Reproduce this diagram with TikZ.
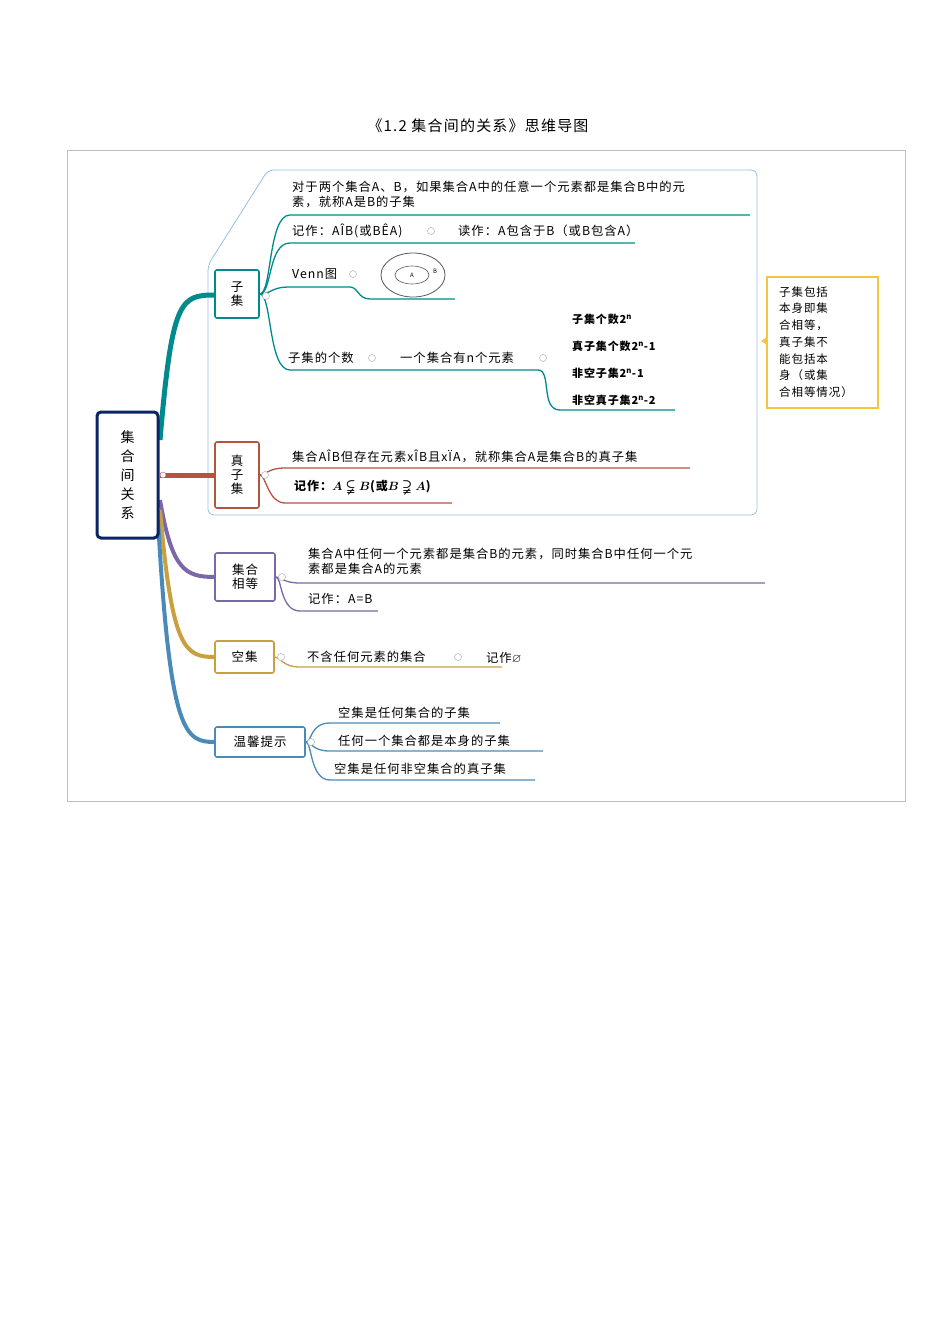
\documentclass[tikz,border=0pt]{standalone}
\usepackage{amssymb}
\usepackage{bm}
\usepackage{fontspec}
\setmainfont[LetterSpace=8]{Noto Sans CJK SC}
\begin{document}
\begin{tikzpicture}[x=1pt,y=-1pt,
 txt/.style={anchor=west,inner sep=0pt,font=\fontsize{12.3}{15}\selectfont},
 box/.style={draw,rounded corners=2pt,line width=1.6pt,fill=white,align=center,font=\fontsize{12.5}{14}\selectfont},
 br/.style={line width=1.3pt},
 col/.style={draw=gray!60,fill=white,circle,inner sep=0pt,minimum size=7pt,line width=0.5pt}]
\definecolor{teal1}{RGB}{0,138,140}
\definecolor{red1}{RGB}{178,84,62}
\definecolor{pur1}{RGB}{122,104,168}
\definecolor{gold1}{RGB}{200,160,64}
\definecolor{blue1}{RGB}{74,138,184}
\definecolor{navy1}{RGB}{10,36,100}
\definecolor{yel1}{RGB}{245,197,66}
\definecolor{lb}{RGB}{150,190,225}
\useasboundingbox (0,0) rectangle (950,1344);
\node[font=\fontsize{15}{17}\selectfont] (title) at (478,126) {《1.2 集合间的关系》思维导图};
\draw[gray!50] (67,150) rectangle (905,801);
% subset frame
\draw[lb,line width=0.8pt,rounded corners=6pt] (268,170) -- (757,170) -- (757,515) -- (208,515) -- (208,265) -- cycle;
% main branches
\draw[teal1,line width=5pt] (160,440) .. controls (172,300) and (180,295) .. (215,295);
\draw[red1,line width=5pt] (160,475) -- (215,475);
\draw[pur1,line width=4pt] (160,500) .. controls (172,570) and (185,577) .. (215,577);
\draw[gold1,line width=4pt] (160,510) .. controls (172,650) and (185,657) .. (215,657);
\draw[blue1,line width=4pt] (158,520) .. controls (170,735) and (185,742) .. (215,742);
\node[box,draw=navy1,line width=3pt,minimum width=61pt,minimum height=126pt,rounded corners=4pt,font=\fontsize{14}{19}\selectfont] (c) at (127.5,475) {集\\合\\间\\关\\系};
\node[circle,fill=white,draw=red1,inner sep=0pt,minimum size=6pt] (cd) at (163,475) {};
% nodes
\node[box,draw=teal1,minimum width=44pt,minimum height=48pt] (zj) at (237,294) {子\\集};
\node[box,draw=red1,minimum width=44pt,minimum height=66pt] (zzj) at (237,475) {真\\子\\集};
\node[box,draw=pur1,minimum width=60pt,minimum height=48pt] (xd) at (245,577) {集合\\相等};
\node[box,draw=gold1,minimum width=59pt,minimum height=32pt] (kj) at (244.5,657) {空集};
\node[box,draw=blue1,minimum width=90pt,minimum height=30pt] (wx) at (260,742) {温馨提示};
% subset children
\draw[teal1,br] (zj.east) .. controls (272,294) and (268,215) .. (290,215) -- (750,215);
\draw[teal1,br] (zj.east) .. controls (272,294) and (268,243) .. (290,243) -- (635,243);
\draw[teal1,br] (zj.east) .. controls (272,294) and (270,287) .. (290,287) -- (350,287) .. controls (358,287) and (358,299) .. (370,299) -- (455,299);
\draw[teal1,br] (zj.east) .. controls (272,294) and (268,370) .. (290,370) -- (538,370) .. controls (552,370) and (540,410) .. (560,410) -- (675,410);
\node[col] at (266,296) {};
\node[txt] (t1) at (292,196) {\begin{tabular}{@{}l@{}}对于两个集合A、B，如果集合A中的任意一个元素都是集合B中的元\\素，就称A是B的子集\end{tabular}};
\node[txt] (t2) at (292,231) {记作：AÎB(或BÊA)};
\node[col] at (431,231) {};
\node[txt] (t3) at (458,231) {读作：A包含于B（或B包含A）};
\node[txt] (t4) at (292,274) {Venn图};
\node[col] at (353,274) {};
\draw[gray!70!black,line width=0.8pt] (413,275) ellipse (32 and 22);
\draw[gray!70!black,line width=0.6pt] (412,275) ellipse (17 and 9);
\node[font=\fontsize{6}{7}\selectfont\itshape] (va) at (412,275) {A};
\node[font=\fontsize{6}{7}\selectfont\itshape] (vb) at (435,271) {B};
\node[txt] (t5) at (288,358) {子集的个数};
\node[col] at (372,358) {};
\node[txt] (t6) at (400,358) {一个集合有n个元素};
\node[col] at (543,358) {};
\node[txt,font=\fontsize{11}{13}\selectfont\bfseries] (n1) at (572,319) {子集个数2\textsuperscript{n}};
\node[txt,font=\fontsize{11}{13}\selectfont\bfseries] (n2) at (572,346) {真子集个数2\textsuperscript{n}-1};
\node[txt,font=\fontsize{11}{13}\selectfont\bfseries] (n3) at (572,373) {非空子集2\textsuperscript{n}-1};
\node[txt,font=\fontsize{11}{13}\selectfont\bfseries] (n4) at (572,400) {非空真子集2\textsuperscript{n}-2};
% yellow note
\draw[yel1,line width=2pt] (767,277) rectangle (878,408);
\fill[yel1] (767,337) -- (761,341) -- (767,345) -- cycle;
\node[txt,align=left,font=\fontsize{11.5}{16.7}\selectfont] (note) at (779,342) {子集包括\\本身即集\\合相等，\\真子集不\\能包括本\\身（或集\\合相等情况）};
% proper subset
\draw[red1,br] (zzj.east) .. controls (266,475) and (268,468) .. (285,468) -- (690,468);
\draw[red1,br] (zzj.east) .. controls (266,475) and (268,503) .. (285,503) -- (452,503);
\node[col] at (265,475) {};
\node[txt] (p1) at (292,456) {集合AÎB但存在元素xÎB且xÏA，就称集合A是集合B的真子集};
\node[txt,font=\fontsize{12}{14}\selectfont\bfseries] (p2) at (294,487) {记作：$\bm{A\subsetneqq B}$(或$\bm{B\supsetneqq A}$)};
% equal
\draw[pur1,br] (xd.east) .. controls (282,577) and (283,583) .. (300,583) -- (765,583);
\draw[pur1,br] (xd.east) .. controls (282,577) and (280,611) .. (300,611) -- (378,611);
\node[col] at (282,577) {};
\node[txt] (e1) at (308,563) {\begin{tabular}{@{}l@{}}集合A中任何一个元素都是集合B的元素，同时集合B中任何一个元\\素都是集合A的元素\end{tabular}};
\node[txt] (e2) at (308,599) {记作：A=B};
% empty
\draw[gold1,br] (kj.east) .. controls (281,657) and (282,667) .. (300,667) -- (502,667);
\node[col] at (281,657) {};
\node[txt] (k1) at (307,657) {不含任何元素的集合};
\node[col] at (458,657) {};
\node[txt] (k2) at (486,658) {记作$\varnothing$};
% tips
\draw[blue1,br] (wx.east) .. controls (312,742) and (310,723) .. (330,723) -- (500,723);
\draw[blue1,br] (wx.east) .. controls (312,742) and (312,751) .. (330,751) -- (543,751);
\draw[blue1,br] (wx.east) .. controls (312,742) and (310,780) .. (330,780) -- (535,780);
\node[col] at (311,742) {};
\node[txt] (w1) at (338,713) {空集是任何集合的子集};
\node[txt] (w2) at (338,741) {任何一个集合都是本身的子集};
\node[txt] (w3) at (334,769) {空集是任何非空集合的真子集};
\end{tikzpicture}
\end{document}
